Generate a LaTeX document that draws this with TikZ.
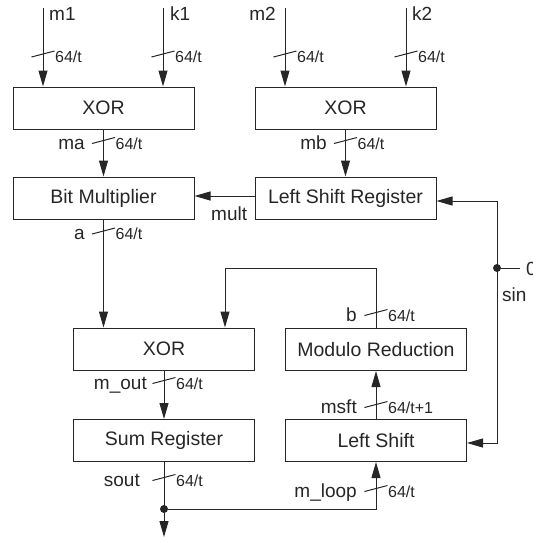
\documentclass[tikz,border=0pt]{standalone}
\usepackage{fontspec}
\setmainfont{Liberation Sans}
\usetikzlibrary{arrows.meta}
\begin{document}
\begin{tikzpicture}[x=1pt,y=-1pt,
  blk/.style={draw=black!85, line width=1pt, minimum width=181pt, minimum height=42pt, inner sep=0pt, font=\fontsize{19.5}{20}\selectfont, text=black!85},
  wire/.style={draw=black!85, line width=1pt},
  arr/.style={wire, -{Triangle[length=16pt,width=9pt]}},
  lbl/.style={font=\fontsize{19}{20}\selectfont, text=black!85, inner sep=0pt},
  bw/.style={font=\fontsize{16}{17}\selectfont, text=black!85, inner sep=0pt},
  dot/.style={circle, fill=black!85, inner sep=0pt, minimum size=8pt},
  busmark/.pic={\draw[wire] (-11.5,3) -- (11.5,-3);}
]
\useasboundingbox (0,0) rectangle (533,542);
% blocks
\node[blk] (xor1) at (103.5,108) {XOR};
\node[blk] (xor2) at (345.5,108) {XOR};
\node[blk] (bm) at (103.5,198) {Bit Multiplier};
\node[blk] (lsr) at (345.5,198) {Left Shift Register};
\node[blk] (xor3) at (164,349) {XOR};
\node[blk] (mr) at (376,349.5) {Modulo Reduction};
\node[blk] (sr) at (164,440.5) {Sum Register};
\node[blk] (ls) at (376,440.5) {Left Shift};
% inputs
\coordinate (m1) at (43,8);
\coordinate (k1) at (163,8);
\coordinate (m2) at (285,8);
\coordinate (k2) at (406,8);
\draw[arr] (m1) -- (m1 |- xor1.north);
\draw[arr] (k1) -- (k1 |- xor1.north);
\draw[arr] (m2) -- (m2 |- xor2.north);
\draw[arr] (k2) -- (k2 |- xor2.north);
\node[lbl, anchor=base west] (lm1) at (49,20) {m1};
\node[lbl, anchor=base west] (lk1) at (170,20) {k1};
\node[lbl, anchor=base east] (lm2) at (276,20) {m2};
\node[lbl, anchor=base west] (lk2) at (412,20) {k2};
\pic at (43,54) {busmark};
\pic at (163,54) {busmark};
\pic at (285,54) {busmark};
\pic at (406,54) {busmark};
\node[bw, anchor=base west] (w1) at (55,62.5) {64/t};
\node[bw, anchor=base west] (w2) at (175,62.5) {64/t};
\node[bw, anchor=base west] (w3) at (297,62.5) {64/t};
\node[bw, anchor=base west] (w4) at (418,62.5) {64/t};
% ma, mb
\draw[arr] (xor1.south) -- (bm.north);
\draw[arr] (xor2.south) -- (lsr.north);
\pic at (103.5,140.5) {busmark};
\pic at (345.5,140.5) {busmark};
\node[lbl, anchor=base east] (lma) at (85,149) {ma};
\node[bw, anchor=base west] (w5) at (115.5,149) {64/t};
\node[lbl, anchor=base east] (lmb) at (327,149) {mb};
\node[bw, anchor=base west] (w6) at (357.5,149) {64/t};
% mult
\draw[arr] ([yshift=2pt]lsr.west) -- ([yshift=2pt]bm.east);
\node[lbl, anchor=base west] (lmult) at (211,220) {mult};
% a
\draw[arr] (bm.south) -- (bm.south |- xor3.north);
\pic at (103.5,231) {busmark};
\node[lbl, anchor=base east] (la) at (85,239.5) {a};
\node[bw, anchor=base west] (w7) at (115.5,239.5) {64/t};
% loop b
\coordinate (lp) at (225,268);
\draw[arr] (mr.north) |- (lp) -- (lp |- xor3.north);
\pic at (376,312.5) {busmark};
\node[lbl, anchor=base east] (lb) at (357,321) {b};
\node[bw, anchor=base west] (w8) at (388,321) {64/t};
% m_out
\draw[arr] (xor3.south) -- (sr.north);
\pic at (164,380.5) {busmark};
\node[lbl, anchor=base east] (lmout) at (147,389) {m\_out};
\node[bw, anchor=base west] (w9) at (176,389) {64/t};
% msft
\draw[arr] (ls.north) -- (mr.south);
\pic at (376,404.5) {busmark};
\node[lbl, anchor=base east] (lmsft) at (357,413) {msft};
\node[bw, anchor=base west] (w10) at (388,413) {64/t+1};
% sout
\coordinate (out) at (164,537);
\draw[arr] (sr.south) -- (out);
\pic at (164,477.5) {busmark};
\node[lbl, anchor=base east] (lsout) at (140,486) {sout};
\node[bw, anchor=base west] (w11) at (176,486) {64/t};
\node[dot] (d1) at (164,509) {};
\draw[arr] (d1) -| (ls.south);
\pic at (376,488.5) {busmark};
\node[lbl, anchor=base east] (lmloop) at (357,497) {m\_loop};
\node[bw, anchor=base west] (w12) at (388,497) {64/t};
% sin
\coordinate (rtop) at (497,201);
\coordinate (rbot) at (497,443);
\node[dot] (d2) at (497,268) {};
\draw[arr] (rtop) -- ([yshift=-3pt]lsr.east);
\draw[arr] (rtop) -- (rbot) -- ([yshift=-2.5pt]ls.east);
\coordinate (zr) at (520,268);
\draw[wire] (d2) -- (zr);
\node[lbl, anchor=base west] (lzero) at (526,275) {0};
\node[lbl, anchor=base west] (lsin) at (502,301) {sin};
\end{tikzpicture}
\end{document}
